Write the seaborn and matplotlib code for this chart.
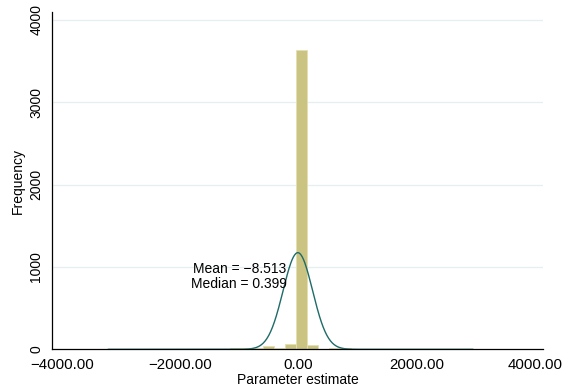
import numpy as np
import pandas as pd
import matplotlib
matplotlib.use("Agg")
import matplotlib.pyplot as plt
from matplotlib.ticker import FuncFormatter
import seaborn as sns

# Histogram of parameter estimates: 33 equal-width bins spanning the data range
data_min = -3220.0
data_max = 2956.0
n_bins = 33
bin_counts = [2, 1, 2, 1, 3, 1, 2, 8, 3, 2, 3,
              16, 18, 10, 36, 22, 62, 3640, 48, 4, 20, 10,
              2, 3, 1, 2, 1, 1, 2, 1, 0, 1, 2]

# Summary statistics of the estimates
mean_est = -8.513
median_est = 0.399
sd_est = 250.0

x_ticks = [-4000, -2000, 0, 2000, 4000]
y_ticks = [0, 1000, 2000, 3000, 4000]

edges = np.linspace(data_min, data_max, n_bins + 1)
width = edges[1] - edges[0]
centers = (edges[:-1] + edges[1:]) / 2
df = pd.DataFrame({"estimate": centers, "count": bin_counts})

# Fitted normal density, scaled to frequency units
n_obs = float(np.sum(bin_counts))
xs = np.linspace(data_min, data_max, 600)
dens = n_obs * width / (sd_est * np.sqrt(2 * np.pi)) * np.exp(-0.5 * ((xs - mean_est) / sd_est) ** 2)
curve = pd.DataFrame({"estimate": xs, "freq": dens})

sns.set_style("white")
plt.rcParams["font.family"] = ["Liberation Sans", "DejaVu Sans"]
plt.rcParams["axes.unicode_minus"] = True
for key in ("text.color", "axes.labelcolor", "xtick.color", "ytick.color"):
    plt.rcParams[key] = "black"

fig = plt.figure(figsize=(5.68, 3.91), dpi=100)
ax = fig.add_axes([0.0923, 0.1066, 0.8629, 0.8634])

for y in y_ticks[1:]:
    ax.axhline(y, color="#e6eff0", lw=0.9, zorder=0)

sns.histplot(data=df, x="estimate", weights="count", bins=edges.tolist(), ax=ax,
             color="#cac381", edgecolor="#e3dfae", linewidth=0.6,
             alpha=1.0, zorder=2)
sns.lineplot(data=curve, x="estimate", y="freq", ax=ax, color="#1e6b68",
             lw=1.0, zorder=3)

ax.text(-1000, 975, f"Mean = {mean_est:.3f}".replace("-", "\u2212"),
        ha="center", va="center", fontsize=10, color="black", zorder=4)
ax.text(-1000, 790, f"Median = {median_est:.3f}",
        ha="center", va="center", fontsize=10, color="black", zorder=4)

ax.set_xlim(-4161, 4132)
ax.set_ylim(0, 4100)
ax.set_xticks(x_ticks)
ax.set_yticks(y_ticks)
ax.xaxis.set_major_formatter(FuncFormatter(lambda v, p: f"{v:.2f}".replace("-", "\u2212")))
ax.yaxis.set_major_formatter(FuncFormatter(lambda v, p: f"{v:.0f}"))
ax.tick_params(axis="both", direction="out", length=4, width=0.8,
               color="#333333", labelcolor="black", labelsize=10, pad=2.5)
ax.tick_params(axis="x", labelsize=10.8, pad=2)
plt.setp(ax.get_yticklabels(), rotation=90, va="center")

ax.set_xlabel("Parameter estimate", fontsize=10, labelpad=1)
ax.set_ylabel("Frequency", fontsize=10, labelpad=3)

for side in ("top", "right"):
    ax.spines[side].set_visible(False)
for side in ("left", "bottom"):
    ax.spines[side].set_color("black")
    ax.spines[side].set_linewidth(0.9)

fig.savefig("out.png", dpi=100)
